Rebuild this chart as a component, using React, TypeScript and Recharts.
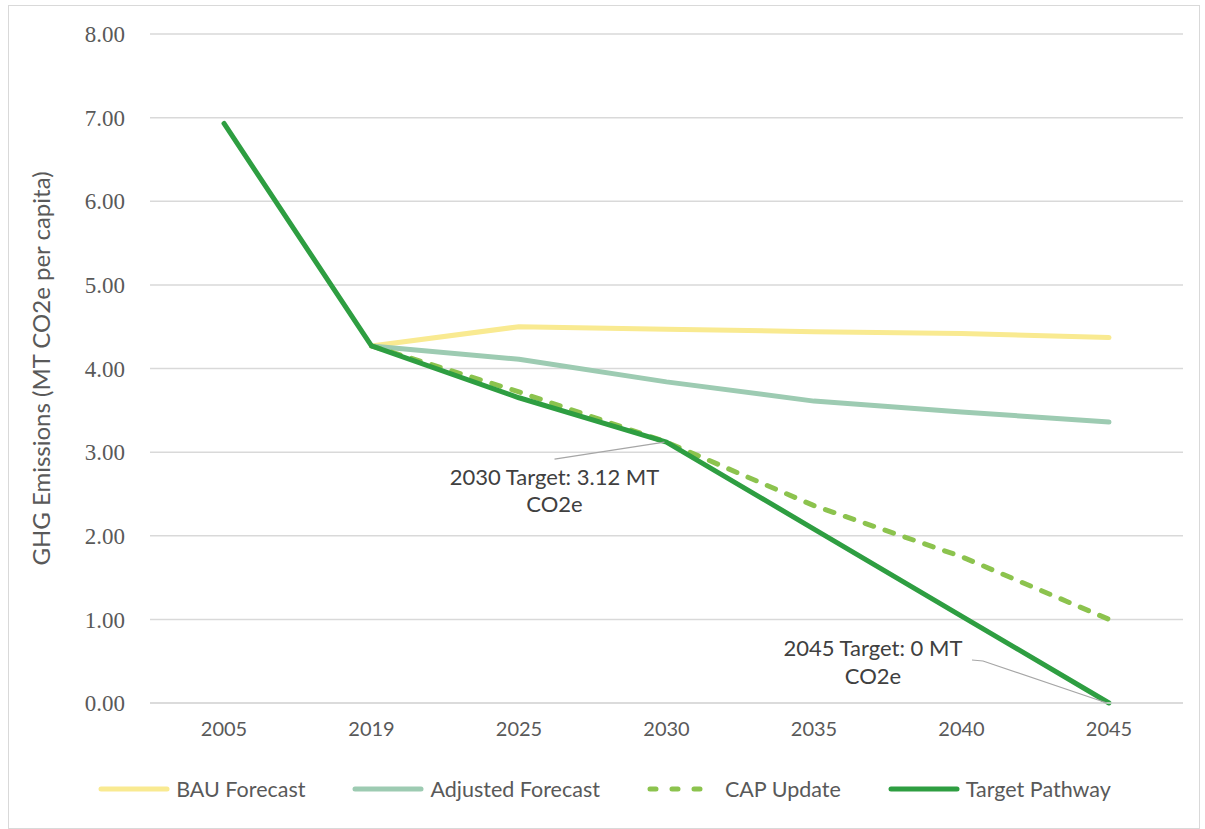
import React from "react"
import { LineChart, Line, XAxis, YAxis, CartesianGrid, ReferenceDot } from "recharts"

const years = ["2005", "2019", "2025", "2030", "2035", "2040", "2045"]
const bauForecast = [null, 4.27, 4.5, 4.47, 4.44, 4.42, 4.37]
const adjustedForecast = [null, 4.27, 4.11, 3.84, 3.61, 3.48, 3.36]
const capUpdate = [null, 4.27, 3.72, 3.12, 2.36, 1.75, 1.0]
const targetPathway = [6.93, 4.27, 3.65, 3.12, 2.08, 1.04, 0]
const yTicks = [0, 1, 2, 3, 4, 5, 6, 7, 8]

const series = [
  { key: "bau", name: "BAU Forecast", color: "#F9EA91", values: bauForecast, dash: undefined },
  { key: "adjusted", name: "Adjusted Forecast", color: "#9DCBB2", values: adjustedForecast, dash: undefined },
  { key: "cap", name: "CAP Update", color: "#8CC34E", values: capUpdate, dash: "9 12" },
  { key: "target", name: "Target Pathway", color: "#2E9E41", values: targetPathway, dash: undefined },
]

const chartData = years.map((year, i) => {
  const row: Record<string, string | number | null> = { year }
  series.forEach((s) => {
    row[s.key] = s.values[i]
  })
  return row
})

const sans = "Lato, 'Open Sans', sans-serif"
const serif = "'Liberation Serif', 'DejaVu Serif', serif"
const textGray = "#595959"

function Note2030(props: any) {
  const { cx, cy } = props
  if (cx == null || cy == null) return null
  return (
    <g>
      <line x1={cx - 112} y1={cy + 17} x2={cx - 2} y2={cy} stroke="#a6a6a6" strokeWidth={1.2} />
      <text x={cx - 112} y={cy + 43} textAnchor="middle" fontFamily={sans} fontSize={22} fill="#404040">
        2030 Target: 3.12 MT
      </text>
      <text x={cx - 112} y={cy + 70} textAnchor="middle" fontFamily={sans} fontSize={22} fill="#404040">
        CO2e
      </text>
    </g>
  )
}

function Note2045(props: any) {
  const { cx, cy } = props
  if (cx == null || cy == null) return null
  return (
    <g>
      <polyline
        points={`${cx - 137},${cy - 43} ${cx - 126},${cy - 42} ${cx - 2},${cy}`}
        fill="none"
        stroke="#a6a6a6"
        strokeWidth={1.2}
      />
      <text x={cx - 236} y={cy - 47} textAnchor="middle" fontFamily={sans} fontSize={22} fill="#404040">
        2045 Target: 0 MT
      </text>
      <text x={cx - 236} y={cy - 19} textAnchor="middle" fontFamily={sans} fontSize={22} fill="#404040">
        CO2e
      </text>
    </g>
  )
}

function ChartLegend() {
  return (
    <div
      style={{
        position: "absolute",
        top: 770,
        left: 0,
        width: "100%",
        display: "flex",
        justifyContent: "center",
        gap: 46,
        fontFamily: sans,
        fontSize: 21.5,
        color: textGray,
      }}
    >
      {series.map((s) => (
        <div key={s.key} style={{ display: "flex", alignItems: "center", gap: 5 }}>
          <svg width={74} height={10}>
            <line
              x1={4}
              y1={5}
              x2={70}
              y2={5}
              stroke={s.color}
              strokeWidth={5}
              strokeLinecap="round"
              strokeDasharray={s.dash ? "6 16" : undefined}
            />
          </svg>
          <span>{s.name}</span>
        </div>
      ))}
    </div>
  )
}

export default function App() {
  return (
    <div
      style={{
        position: "absolute",
        left: 8,
        top: 5,
        width: 1190,
        height: 822,
        border: "1px solid #d9d9d9",
        background: "#fff",
      }}
    >
      <LineChart width={1190} height={822} data={chartData} margin={{ top: 28, right: 16, left: 0, bottom: 85 }}>
        <CartesianGrid vertical={false} stroke="#d9d9d9" strokeWidth={1.5} />
        <XAxis
          dataKey="year"
          tickLine={false}
          axisLine={{ stroke: "#d9d9d9", strokeWidth: 1.5 }}
          padding={{ left: 74, right: 74 }}
          tick={{ fontFamily: sans, fontSize: 20, fill: textGray }}
          tickMargin={13}
          height={40}
        />
        <YAxis
          domain={[0, 8]}
          ticks={yTicks}
          width={141}
          axisLine={false}
          tickLine={false}
          tickMargin={19}
          tickFormatter={(v: number) => v.toFixed(2)}
          tick={{ fontFamily: serif, fontSize: 23, fill: textGray }}
          label={{
            content: ({ viewBox }: any) => {
              const x = viewBox.x + 31
              const y = viewBox.y + viewBox.height / 2
              return (
                <text
                  x={x}
                  y={y}
                  transform={`rotate(-90 ${x} ${y})`}
                  textAnchor="middle"
                  dominantBaseline="central"
                  fontFamily={sans}
                  fontSize={24}
                  fill={textGray}
                >
                  GHG Emissions (MT CO2e per capita)
                </text>
              )
            },
          }}
        />
        {series.map((s) => (
          <Line
            key={s.key}
            type="linear"
            dataKey={s.key}
            name={s.name}
            stroke={s.color}
            strokeWidth={5}
            strokeLinecap="round"
            strokeLinejoin="round"
            strokeDasharray={s.dash}
            dot={false}
            activeDot={false}
            isAnimationActive={false}
          />
        ))}
        <ReferenceDot x="2030" y={3.12} r={0} ifOverflow="visible" shape={Note2030} />
        <ReferenceDot x="2045" y={0} r={0} ifOverflow="visible" shape={Note2045} />
      </LineChart>
      <ChartLegend />
    </div>
  )
}
